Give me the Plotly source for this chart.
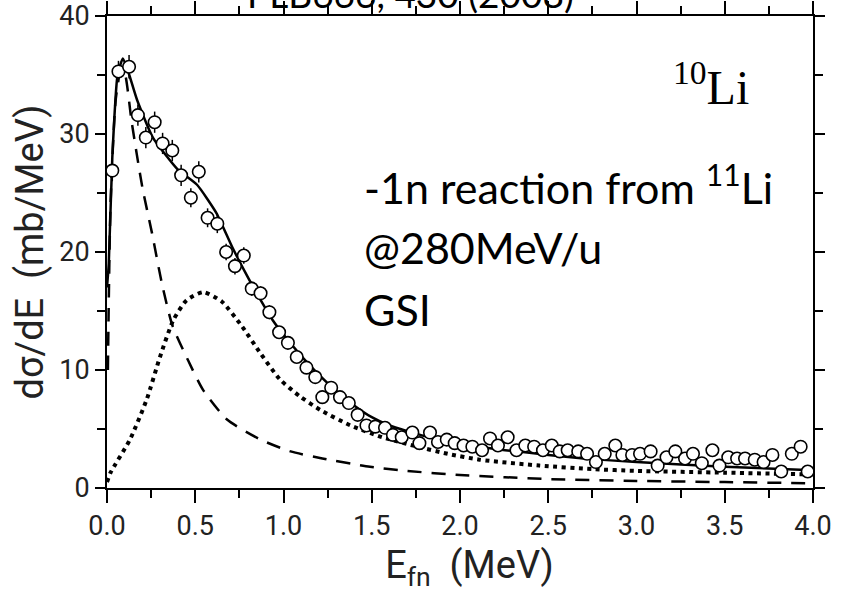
import plotly.graph_objects as go

# ---- experimental points (E_fn in MeV, dσ/dE in mb/MeV) ----
E_exp = [0.03, 0.065, 0.125, 0.175, 0.22, 0.27, 0.315, 0.37, 0.42, 0.475,
         0.52, 0.57, 0.625, 0.675, 0.725, 0.775, 0.82, 0.87, 0.92, 0.975,
         1.025, 1.075, 1.13, 1.18, 1.22, 1.27, 1.32, 1.37, 1.42, 1.47,
         1.52, 1.575, 1.62, 1.67, 1.73, 1.77, 1.83, 1.875, 1.925, 1.97,
         2.02, 2.07, 2.125, 2.17, 2.215, 2.27, 2.32, 2.37, 2.42, 2.47,
         2.52, 2.565, 2.61, 2.67, 2.72, 2.77, 2.82, 2.88, 2.92, 2.975,
         3.02, 3.08, 3.12, 3.17, 3.22, 3.275, 3.32, 3.37, 3.43, 3.47,
         3.52, 3.57, 3.615, 3.67, 3.72, 3.77, 3.82, 3.88, 3.93, 3.97]
sig_exp = [26.9, 35.3, 35.7, 31.6, 29.7, 31.0, 29.2, 28.6, 26.5, 24.6,
           26.8, 22.9, 22.4, 20.0, 18.8, 19.7, 16.9, 16.5, 14.9, 13.2,
           12.3, 11.1, 10.2, 9.4, 7.7, 8.5, 7.7, 7.2, 6.2, 5.3,
           5.2, 5.1, 4.5, 4.3, 4.7, 3.8, 4.7, 3.9, 4.1, 3.8,
           3.6, 3.5, 3.2, 4.2, 3.6, 4.3, 3.2, 3.6, 3.5, 3.2,
           3.6, 3.1, 3.2, 3.1, 2.9, 2.2, 2.9, 3.6, 2.8, 2.8,
           2.9, 3.1, 1.9, 2.6, 3.1, 2.5, 2.9, 2.1, 3.2, 1.9,
           2.6, 2.5, 2.5, 2.4, 2.2, 2.8, 1.4, 2.9, 3.5, 1.4]
err_exp = [0.9, 0.9, 1.0, 0.9, 0.9, 0.9, 0.9, 0.9, 0.9, 0.8,
           0.9, 0.8, 0.8, 0.7, 0.7, 0.7, 0.6, 0.6, 0.6, 0.5,
           0.5, 0.5, 0.5, 0.5, 0.5, 0.5, 0.5, 0.4, 0.4, 0.4,
           0.4, 0.4, 0.4, 0.4, 0.4, 0.4, 0.4, 0.4, 0.4, 0.4,
           0.4, 0.4, 0.4, 0.4, 0.4, 0.4, 0.4, 0.4, 0.4, 0.4,
           0.4, 0.4, 0.4, 0.4, 0.4, 0.4, 0.4, 0.4, 0.4, 0.4,
           0.4, 0.4, 0.4, 0.4, 0.4, 0.4, 0.4, 0.4, 0.4, 0.4,
           0.4, 0.4, 0.4, 0.4, 0.4, 0.4, 0.4, 0.4, 0.4, 0.4]

# ---- total fit (solid) ----
E_tot = [0.0, 0.01, 0.03, 0.06, 0.09, 0.12, 0.17, 0.26, 0.40, 0.51,
         0.62, 0.71, 0.80, 0.86, 0.94, 1.0, 1.1, 1.2, 1.3, 1.4,
         1.5, 1.6, 1.8, 2.0, 2.2, 2.5, 2.7, 3.0, 3.5, 4.0]
sig_tot = [17.0, 19.0, 28.0, 35.0, 36.4, 35.3, 32.9, 29.7, 27.0, 25.7,
           23.3, 20.4, 17.8, 16.2, 14.2, 13.0, 11.2, 9.6, 8.2, 7.0,
           6.0, 5.3, 4.4, 3.8, 3.3, 2.8, 2.5, 2.2, 1.8, 1.5]

# ---- s-wave component (dashed) ----
E_s = [0.005, 0.02, 0.05, 0.08, 0.10, 0.14, 0.20, 0.255, 0.31, 0.37,
       0.46, 0.545, 0.68, 0.87, 1.04, 1.22, 1.49, 1.7, 2.0, 2.5,
       3.0, 3.5, 4.0]
sig_s = [10.0, 24.0, 33.0, 35.5, 35.2, 31.0, 25.5, 21.6, 17.4, 13.8,
         10.8, 8.3, 5.8, 4.1, 3.1, 2.5, 1.8, 1.45, 1.1, 0.76,
         0.6, 0.5, 0.4]

# ---- p-wave component (dotted) ----
E_p = [0.0, 0.02, 0.13, 0.225, 0.3, 0.375, 0.45, 0.545, 0.65, 0.76,
       0.87, 0.98, 1.09, 1.21, 1.38, 1.56, 1.76, 1.93, 2.11, 2.45,
       2.75, 3.0, 3.5, 4.0]
sig_p = [0.5, 1.3, 4.1, 7.5, 11.1, 14.2, 15.9, 16.6, 15.8, 13.8,
         11.4, 9.2, 7.8, 6.6, 5.3, 4.3, 3.5, 2.9, 2.4, 1.9,
         1.6, 1.45, 1.3, 1.15]

# ---- axis tick labels ----
x_tickvals = [0.0, 0.5, 1.0, 1.5, 2.0, 2.5, 3.0, 3.5, 4.0]
x_ticktext = ["0.0", "0.5", "1.0", "1.5", "2.0", "2.5", "3.0", "3.5", "4.0"]
y_tickvals = [0, 10, 20, 30, 40]
y_ticktext = ["0", "10", "20", "30", "40"]

tickfont = dict(family="Roboto, DejaVu Sans, sans-serif", size=27, color="#222222")
txtfont = "Lato, Open Sans, sans-serif"

fig = go.Figure()
fig.add_trace(go.Scatter(x=E_s, y=sig_s, mode="lines",
                         line=dict(color="black", width=2.5, dash="14px,10px",
                                   shape="spline", smoothing=0.6),
                         showlegend=False))
fig.add_trace(go.Scatter(x=E_p, y=sig_p, mode="lines",
                         line=dict(color="black", width=4, dash="4px,4.5px",
                                   shape="spline", smoothing=0.6),
                         showlegend=False))
fig.add_trace(go.Scatter(x=E_tot, y=sig_tot, mode="lines",
                         line=dict(color="black", width=2.5,
                                   shape="spline", smoothing=0.5),
                         showlegend=False))
fig.add_trace(go.Scatter(x=E_exp, y=sig_exp, mode="markers",
                         marker=dict(symbol="circle", size=12.5, color="white",
                                     line=dict(color="black", width=1.6)),
                         error_y=dict(type="data", array=err_exp, color="black",
                                      thickness=1.5, width=0),
                         showlegend=False))

fig.update_layout(
    width=850, height=593,
    margin=dict(l=107, r=37, t=16, b=105, autoexpand=False),
    paper_bgcolor="white", plot_bgcolor="white",
    xaxis=dict(range=[0, 4], tickmode="array", tickvals=x_tickvals,
               ticktext=x_ticktext,
               showgrid=False, zeroline=False, showline=True,
               linecolor="black", linewidth=2, mirror="ticks",
               ticks="outside", ticklen=13, tickwidth=2, tickcolor="black",
               minor=dict(dtick=0.25, tick0=0, ticks="outside", ticklen=8,
                          tickwidth=2, tickcolor="black", showgrid=False),
               tickfont=tickfont,
               title=dict(text="&nbsp;&nbsp;E<sub>fn</sub>  (MeV)", standoff=10,
                          font=dict(family=tickfont["family"], size=38,
                                    color="#222222"))),
    yaxis=dict(range=[0, 40], tickmode="array", tickvals=y_tickvals,
               ticktext=y_ticktext,
               showgrid=False, zeroline=False, showline=True,
               linecolor="black", linewidth=2, mirror="ticks",
               ticks="outside", ticklen=10, tickwidth=2, tickcolor="black",
               minor=dict(dtick=5, tick0=0, ticks="outside", ticklen=8,
                          tickwidth=2, tickcolor="black", showgrid=False),
               tickfont=tickfont,
               title=dict(text="dσ/dE  (mb/MeV)", standoff=4,
                          font=dict(family=tickfont["family"], size=38,
                                    color="#222222"))),
    annotations=[
        dict(text="PLB666, 430 (2008)", xref="paper", yref="paper",
             x=0.43, y=1.047, xanchor="center", yanchor="middle",
             showarrow=False, font=dict(family=txtfont, size=37, color="black")),
        dict(text="<sup>10</sup>Li", x=3.42, y=34.2, xanchor="center",
             yanchor="middle", showarrow=False,
             font=dict(family="Liberation Serif, serif", size=48, color="black")),
        dict(text="-1n reaction from <sup>11</sup>Li", x=1.445, y=25.7,
             xanchor="left", yanchor="middle", showarrow=False,
             font=dict(family=txtfont, size=43, color="black")),
        dict(text="@280MeV/u", x=1.445, y=20.4, xanchor="left",
             yanchor="middle", showarrow=False,
             font=dict(family=txtfont, size=43, color="black")),
        dict(text="GSI", x=1.445, y=15.1, xanchor="left", yanchor="middle",
             showarrow=False, font=dict(family=txtfont, size=43, color="black")),
    ],
)

fig.write_html("out.html", config={"displayModeBar": False},
               post_script="document.body.style.margin='0';"
                           "document.body.style.padding='0';")
